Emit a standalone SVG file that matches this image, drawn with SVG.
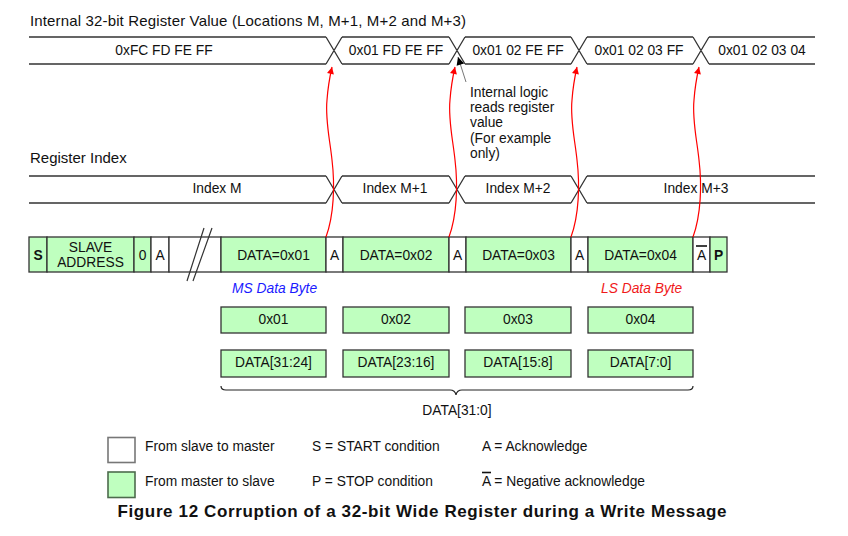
<svg xmlns="http://www.w3.org/2000/svg" width="848" height="536" viewBox="0 0 848 536">
<defs>
<marker id="redHead" viewBox="0 0 10 10" refX="10" refY="5" markerWidth="10" markerHeight="7" markerUnits="userSpaceOnUse" orient="auto">
<path d="M0,0 L10,5 L0,10 Z" fill="#ff0000"/>
</marker>
<marker id="blackHead" viewBox="0 0 10 10" refX="10" refY="5" markerWidth="10" markerHeight="8" markerUnits="userSpaceOnUse" orient="auto">
<path d="M0,0 L10,5 L0,10 Z" fill="#000"/>
</marker>
<path id="redCurve" d="M0,237 C8,215 9,185 6,160 C4,140 -1,120 1,100 C2,85 4,76 6,67"/>
</defs>
<style>
text{font-family:"Liberation Sans",Arial,sans-serif;font-size:13.8px;fill:#111}
.c{text-anchor:middle}
.h{font-size:15px}
.bus{stroke:#333;stroke-width:1.3;fill:none}
.g{fill:#bfffbf;stroke:#333;stroke-width:1.3}
.w{fill:#fff;stroke:#333;stroke-width:1.3}
.b{font-weight:bold}
.red{stroke:#ff0000;stroke-width:1.2;fill:none;marker-end:url(#redHead)}
</style>
<rect width="848" height="536" fill="#fff"/>

<g id="register-value">
<text class="h" x="30" y="26" textLength="436" lengthAdjust="spacing">Internal 32-bit Register Value (Locations M, M+1, M+2 and M+3)</text>
<path class="bus" d="M29,37H326M342,37H449M465,37H571M587,37H693M709,37H815M29,64H326M342,64H449M465,64H571M587,64H693M709,64H815M326,37L342,64M326,64L342,37M449,37L465,64M449,64L465,37M571,37L587,64M571,64L587,37M693,37L709,64M693,64L709,37"/>
<text class="c" x="164" y="55">0xFC FD FE FF</text>
<text class="c" x="396" y="55">0x01 FD FE FF</text>
<text class="c" x="518" y="55">0x01 02 FE FF</text>
<text class="c" x="639" y="55">0x01 02 03 FF</text>
<text class="c" x="762" y="55">0x01 02 03 04</text>
</g>

<g id="note">
<text x="470" y="97">Internal logic</text>
<text x="470" y="112">reads register</text>
<text x="470" y="127">value</text>
<text x="470" y="143">(For example</text>
<text x="470" y="158">only)</text>
</g>

<g id="register-index">
<text class="h" x="30" y="163">Register Index</text>
<path class="bus" d="M29,176H326M342,176H449M465,176H571M587,176H815M29,203H326M342,203H449M465,203H571M587,203H815M326,176L342,203M326,203L342,176M449,176L465,203M449,203L465,176M571,176L587,203M571,203L587,176"/>
<text class="c" x="217" y="193">Index M</text>
<text class="c" x="395" y="193">Index M+1</text>
<text class="c" x="518" y="193">Index M+2</text>
<text class="c" x="696" y="193">Index M+3</text>
</g>

<g id="frame">
<rect class="g" x="29" y="237" width="18" height="35"/>
<text class="c b" x="38" y="260">S</text>
<rect class="g" x="47" y="237" width="87" height="35"/>
<text class="c" x="90.5" y="252">SLAVE</text>
<text class="c" x="90.5" y="267">ADDRESS</text>
<rect class="g" x="134" y="237" width="17" height="35"/>
<text class="c" x="142.5" y="260">0</text>
<rect class="w" x="151" y="237" width="18" height="35"/>
<text class="c" x="160" y="260">A</text>
<rect class="w" x="169" y="237" width="52" height="35"/>
<path stroke="#333" stroke-width="1.2" d="M187,281L204,228M193,281L212,228"/>
<rect class="g" x="221" y="237" width="105" height="35"/>
<text class="c" x="273.5" y="260">DATA=0x01</text>
<rect class="w" x="326" y="237" width="17" height="35"/>
<text class="c" x="334.5" y="260">A</text>
<rect class="g" x="343" y="237" width="106" height="35"/>
<text class="c" x="396" y="260">DATA=0x02</text>
<rect class="w" x="449" y="237" width="17" height="35"/>
<text class="c" x="457.5" y="260">A</text>
<rect class="g" x="466" y="237" width="105" height="35"/>
<text class="c" x="518.5" y="260">DATA=0x03</text>
<rect class="w" x="571" y="237" width="17" height="35"/>
<text class="c" x="579.5" y="260">A</text>
<rect class="g" x="588" y="237" width="105" height="35"/>
<text class="c" x="640.5" y="260">DATA=0x04</text>
<rect class="w" x="693" y="237" width="17" height="35"/>
<text class="c" x="701.5" y="260">A</text>
<line x1="696" y1="246" x2="707" y2="246" stroke="#111" stroke-width="1.6"/>
<rect class="g" x="710" y="237" width="17" height="35"/>
<text class="c b" x="718.5" y="260">P</text>
</g>

<g id="connectors">
<use href="#redCurve" class="red" x="326"/>
<use href="#redCurve" class="red" x="449"/>
<use href="#redCurve" class="red" x="571"/>
<use href="#redCurve" class="red" x="693"/>
<line x1="466" y1="82" x2="458" y2="57" stroke="#777" stroke-width="1" marker-end="url(#blackHead)"/>
</g>

<g id="bytes">
<text x="232" y="293" style="fill:#1a1aff;font-style:italic">MS Data Byte</text>
<text x="601" y="293" style="fill:#f01a1a;font-style:italic">LS Data Byte</text>
<rect class="g" x="221" y="307" width="105" height="26"/>
<text class="c" x="273.5" y="324">0x01</text>
<rect class="g" x="343" y="307" width="106" height="26"/>
<text class="c" x="396" y="324">0x02</text>
<rect class="g" x="465" y="307" width="106" height="26"/>
<text class="c" x="518" y="324">0x03</text>
<rect class="g" x="588" y="307" width="105" height="26"/>
<text class="c" x="640.5" y="324">0x04</text>
<rect class="g" x="221" y="350" width="105" height="27"/>
<text class="c" x="273.5" y="367">DATA[31:24]</text>
<rect class="g" x="343" y="350" width="106" height="27"/>
<text class="c" x="396" y="367">DATA[23:16]</text>
<rect class="g" x="465" y="350" width="106" height="27"/>
<text class="c" x="518" y="367">DATA[15:8]</text>
<rect class="g" x="588" y="350" width="105" height="27"/>
<text class="c" x="640.5" y="367">DATA[7:0]</text>
<path d="M221,386 Q221,390 226,390 H450 Q455,390 456,395 Q457,390 462,390 H688 Q693,390 693,386" fill="none" stroke="#222" stroke-width="1.2"/>
<text class="c" x="457" y="415">DATA[31:0]</text>
</g>

<g id="legend">
<rect x="108" y="437.5" width="27" height="25" fill="#fff" stroke="#777" stroke-width="1.6"/>
<rect x="108" y="472" width="27" height="25.5" fill="#bfffbf" stroke="#4d6b4d" stroke-width="1.6"/>
<text x="145" y="451">From slave to master</text>
<text x="145" y="486">From master to slave</text>
<text x="312" y="451">S = START condition</text>
<text x="312" y="486">P = STOP condition</text>
<text x="482" y="451">A = Acknowledge</text>
<text x="482" y="486">A = Negative acknowledge</text>
<line x1="482" y1="472.5" x2="491" y2="472.5" stroke="#111" stroke-width="1.6"/>
</g>

<text class="c b" x="422" y="517" textLength="609" lengthAdjust="spacing" style="font-size:17px">Figure 12 Corruption of a 32-bit Wide Register during a Write Message</text>
</svg>
